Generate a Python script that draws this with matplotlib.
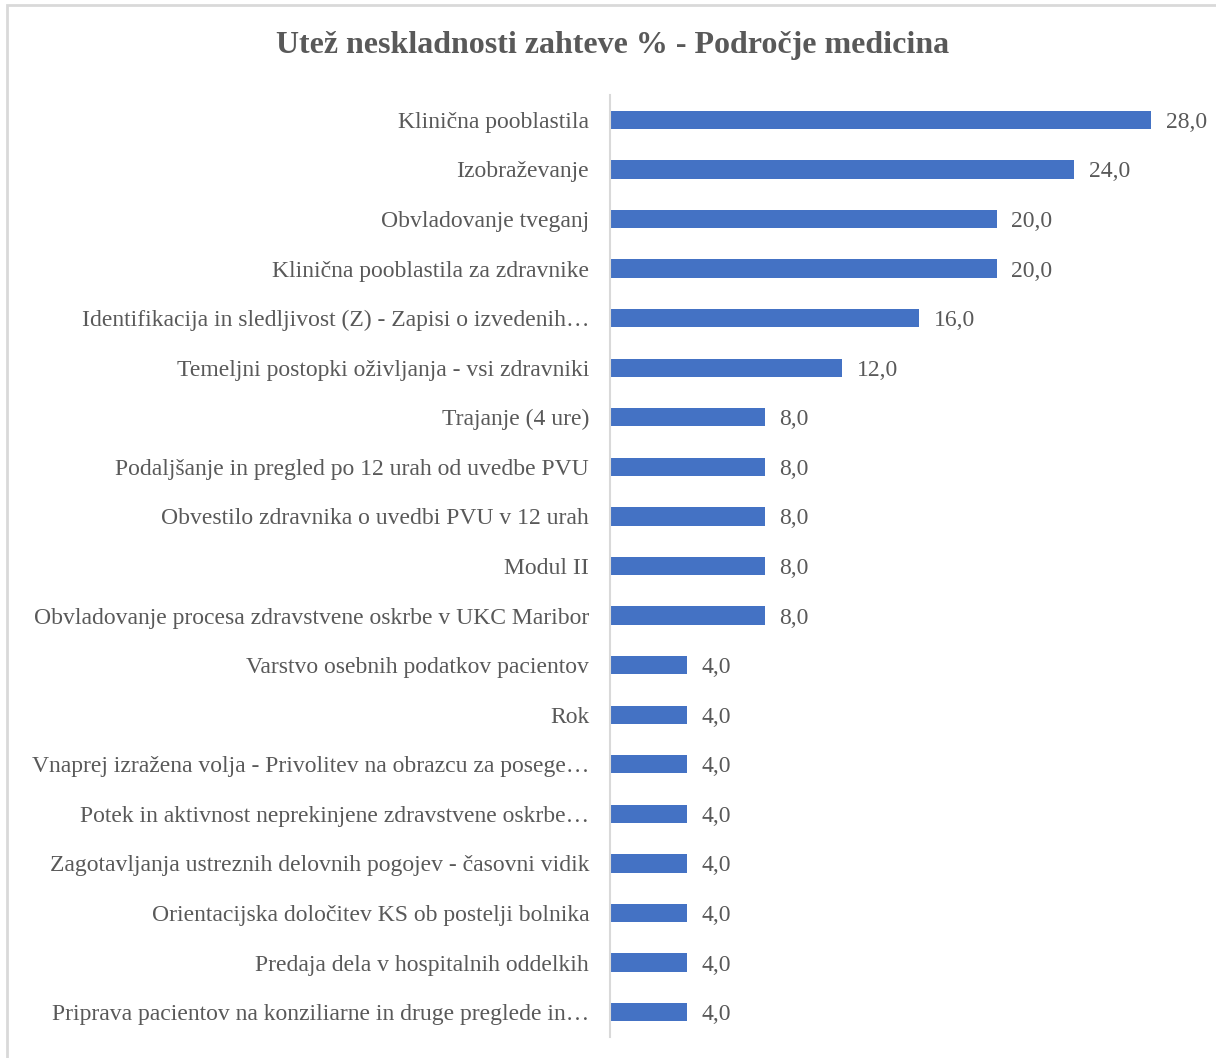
import matplotlib.pyplot as plt
from matplotlib.patches import Rectangle

categories = [
    "Klinična pooblastila",
    "Izobraževanje",
    "Obvladovanje tveganj",
    "Klinična pooblastila za zdravnike",
    "Identifikacija in sledljivost (Z) - Zapisi o izvedenih…",
    "Temeljni postopki oživljanja - vsi zdravniki",
    "Trajanje (4 ure)",
    "Podaljšanje in pregled po 12 urah od uvedbe PVU",
    "Obvestilo zdravnika o uvedbi PVU v 12 urah",
    "Modul II",
    "Obvladovanje procesa zdravstvene oskrbe v UKC Maribor",
    "Varstvo osebnih podatkov pacientov",
    "Rok",
    "Vnaprej izražena volja - Privolitev na obrazcu za posege…",
    "Potek in aktivnost neprekinjene zdravstvene oskrbe…",
    "Zagotavljanja ustreznih delovnih pogojev - časovni vidik",
    "Orientacijska določitev KS ob postelji bolnika",
    "Predaja dela v hospitalnih oddelkih",
    "Priprava pacientov na konziliarne in druge preglede in…",
]
values = [28.0, 24.0, 20.0, 20.0, 16.0, 12.0, 8.0, 8.0, 8.0, 8.0, 8.0,
          4.0, 4.0, 4.0, 4.0, 4.0, 4.0, 4.0, 4.0]
title = "Utež neskladnosti zahteve % - Področje medicina"

plt.rcParams['font.family'] = ['Liberation Serif', 'DejaVu Serif']
text_color = '#595959'

fig = plt.figure(figsize=(12.16, 10.58), dpi=100)
ax = fig.add_axes([610 / 1216, 21 / 1058, 580 / 1216, 942 / 1058])

pos = list(range(len(categories)))
bars = ax.barh(pos, values, height=0.37, color='#4472C4')
ax.set_ylim(len(categories) - 0.5, -0.5)
ax.set_xlim(0, 30)

ax.set_yticks(pos)
ax.set_yticklabels(categories, fontsize=17, color=text_color)
ax.tick_params(axis='y', length=0, pad=15)
ax.set_xticks([])
for side in ['top', 'right', 'bottom']:
    ax.spines[side].set_visible(False)
ax.spines['left'].set_color('#d9d9d9')
ax.spines['left'].set_linewidth(1.5)

for b, v in zip(bars, values):
    ax.text(b.get_width() + 0.75, b.get_y() + b.get_height() / 2 + 0.05,
            f"{v:.1f}".replace('.', ','), va='center', ha='left',
            fontsize=17, color=text_color)

fig.text(613 / 1216, 1 - 46 / 1058, title, ha='center', va='center',
         fontsize=23, fontweight='bold', color=text_color)

fig.patches.append(Rectangle((7 / 1216, -0.01), 1.0, 1 - 5 / 1058 + 0.01,
                             transform=fig.transFigure, fill=False,
                             edgecolor='#d9d9d9', linewidth=2))

fig.savefig('out.png', dpi=100)
